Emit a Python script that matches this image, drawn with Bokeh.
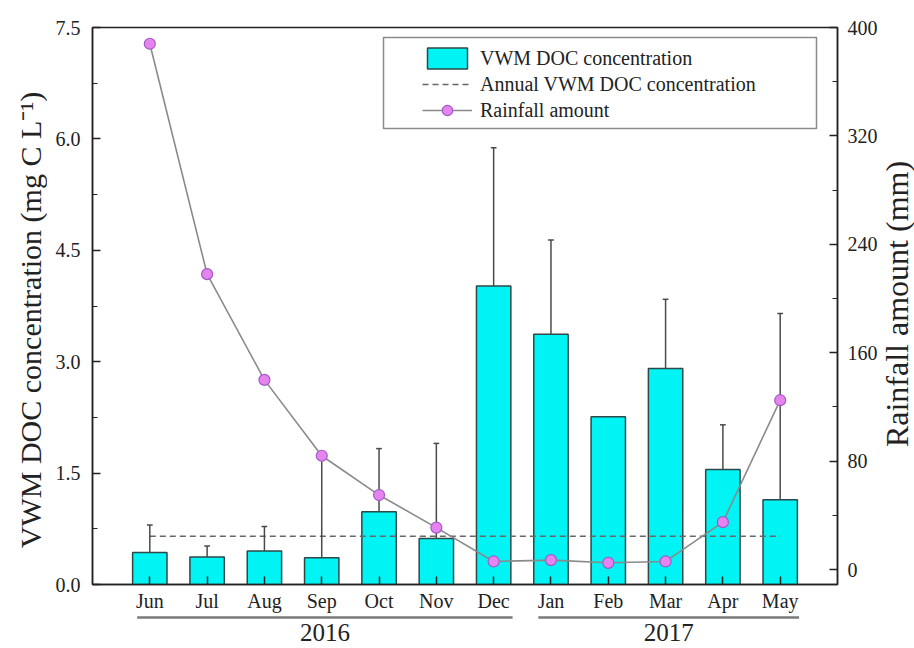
import math

from bokeh.plotting import figure
from bokeh.layouts import column, row
from bokeh.models import (Range1d, LinearAxis, FixedTicker, NumeralTickFormatter,
                          Legend, LegendItem, BoxAnnotation, ColumnDataSource)
from bokeh.core.properties import value
from bokeh.embed import file_html
from bokeh.resources import INLINE

# ---- data -------------------------------------------------------------
months = ["Jun", "Jul", "Aug", "Sep", "Oct", "Nov",
          "Dec", "Jan", "Feb", "Mar", "Apr", "May"]
years = ["2016", "2017"]
year_first = [0, 7]          # index of first month of each year
year_last = [6, 11]          # index of last month of each year

doc_mean = [0.43, 0.37, 0.45, 0.36, 0.98, 0.62, 4.02, 3.37, 2.26, 2.91, 1.55, 1.14]
doc_sd = [0.37, 0.15, 0.33, 1.37, 0.85, 1.28, 1.86, 1.27, 0.0, 0.93, 0.60, 2.51]
annual_doc = 0.65
rainfall = [388, 218, 140, 84, 55, 31, 6, 7, 5, 6, 35, 125]

doc_ticks = [0.0, 1.5, 3.0, 4.5, 6.0, 7.5]
rain_ticks = [0, 80, 160, 240, 320, 400]

left_title = "VWM DOC concentration (mg C L\u207b\u00b9)"
right_title = "Rainfall amount (mm)"

# ---- layout constants ---------------------------------------------------
FONT = "Liberation Serif"
INK = "#222222"
TOTAL_W, TOTAL_H = 914, 648
FRAME_W, FRAME_H = 745, 557
SIDE_L, SIDE_R = 47, 35                  # strips holding the axis titles
BORDER_L, BORDER_R, BORDER_T, BORDER_B = 45, 42, 27, 30
STRIP_H = TOTAL_H - (BORDER_T + FRAME_H + BORDER_B)
Y_MIN, Y_MAX = 0.0, 7.5
RAIN_MIN, RAIN_MAX = -11, 400
X_MIN, X_MAX = -1, len(months)

xs = list(range(len(months)))

p = figure(frame_width=FRAME_W, frame_height=FRAME_H,
           x_range=Range1d(X_MIN, X_MAX), y_range=Range1d(Y_MIN, Y_MAX),
           output_backend="svg", toolbar_location=None,
           min_border_left=BORDER_L, min_border_right=BORDER_R,
           min_border_top=BORDER_T, min_border_bottom=BORDER_B,
           background_fill_color="white", border_fill_color="white",
           outline_line_color=INK, outline_line_width=1.5)
p.xgrid.visible = False
p.ygrid.visible = False
p.extra_y_ranges = {"rain": Range1d(RAIN_MIN, RAIN_MAX)}


def style_axis(ax):
    ax.axis_line_color = INK
    ax.axis_line_width = 1.5
    ax.major_tick_line_color = INK
    ax.minor_tick_line_color = INK
    ax.major_tick_line_width = 1.5
    ax.minor_tick_line_width = 1.2
    ax.major_tick_in = 8
    ax.major_tick_out = 0
    ax.minor_tick_in = 5
    ax.minor_tick_out = 0
    ax.major_label_text_font = FONT
    ax.major_label_text_font_size = "20px"
    ax.major_label_text_color = INK


# bottom axis: month names at category centres
xa = p.xaxis[0]
style_axis(xa)
xa.ticker = FixedTicker(ticks=xs)
xa.major_label_overrides = {i: m for i, m in enumerate(months)}
xa.minor_tick_line_color = None
xa.major_label_standoff = 5

# left axis: DOC concentration
ya = p.yaxis[0]
style_axis(ya)
doc_minor = [(a + b) / 2 for a, b in zip(doc_ticks[:-1], doc_ticks[1:])]
ya.ticker = FixedTicker(ticks=doc_ticks, minor_ticks=doc_minor)
ya.formatter = NumeralTickFormatter(format="0.0")
ya.major_label_standoff = 12

# right axis: rainfall
rain_minor = [(a + b) / 2 for a, b in zip(rain_ticks[:-1], rain_ticks[1:])]
ra = LinearAxis(y_range_name="rain",
                ticker=FixedTicker(ticks=rain_ticks, minor_ticks=rain_minor))
style_axis(ra)
ra.major_label_standoff = 10
p.add_layout(ra, "right")

# ---- glyphs -------------------------------------------------------------
src = ColumnDataSource(dict(x=xs, doc=doc_mean, sd=doc_sd))
bars = p.vbar(x="x", top="doc", width=0.6, source=src,
              fill_color="#00f4f4", line_color="#2d4848", line_width=1.5)

annual = p.line(x=[xs[0], xs[-1]], y=[annual_doc, annual_doc],
                line_color="#666666", line_width=1.6, line_dash="6 4")

# upward error bars with caps
ex = [x for x, s in zip(xs, doc_sd) if s > 0]
e0 = [m for m, s in zip(doc_mean, doc_sd) if s > 0]
e1 = [m + s for m, s in zip(doc_mean, doc_sd) if s > 0]
cap = 0.05
p.segment(x0=ex, y0=e0, x1=ex, y1=e1, line_color="#4a4a4a", line_width=1.5)
p.segment(x0=[x - cap for x in ex], y0=e1, x1=[x + cap for x in ex], y1=e1,
          line_color="#4a4a4a", line_width=1.5)

rain_line = p.line(x=xs, y=rainfall, y_range_name="rain",
                   line_color="#8a8a8a", line_width=1.6)
rain_pts = p.scatter(x=xs, y=rainfall, y_range_name="rain", size=11,
                     fill_color="#e584ee", line_color="#a05ac8", line_width=1.2)

# ---- legend -------------------------------------------------------------
box = BoxAnnotation(left=291, right=724, top=547, bottom=456,
                    left_units="screen", right_units="screen",
                    top_units="screen", bottom_units="screen",
                    fill_color="white", fill_alpha=1.0,
                    line_color="#8a8a8a", line_width=1.5, line_alpha=1.0)
p.add_layout(box)

legend = Legend(items=[
    LegendItem(label="VWM DOC concentration", renderers=[bars]),
    LegendItem(label="Annual VWM DOC concentration", renderers=[annual]),
    LegendItem(label="Rainfall amount", renderers=[rain_line, rain_pts]),
], location=(330, 461), glyph_width=50, glyph_height=26, label_height=26,
    spacing=0, padding=0, margin=0, label_standoff=8,
    label_text_font=FONT, label_text_font_size="20px", label_text_color=INK,
    border_line_alpha=0, background_fill_alpha=0)
p.add_layout(legend)


def blank_panel(w, h, x_range=None):
    f = figure(frame_width=w, frame_height=h,
               x_range=x_range if x_range is not None else Range1d(0, w),
               y_range=Range1d(0, h), x_axis_type=None, y_axis_type=None,
               output_backend="svg", toolbar_location=None,
               min_border_left=0, min_border_right=0,
               min_border_top=0, min_border_bottom=0,
               background_fill_color="white", border_fill_color="white",
               outline_line_color=None)
    f.xgrid.visible = False
    f.ygrid.visible = False
    return f


# ---- year brackets: a thin strip below the main plot, sharing x ----------
strip = blank_panel(FRAME_W, STRIP_H, x_range=p.x_range)
strip.min_border_left = BORDER_L
strip.min_border_right = BORDER_R
y0 = [a - 0.22 for a in year_first]
y1 = [b + 0.33 for b in year_last]
line_level = STRIP_H - 3
text_level = STRIP_H - 18
strip.segment(x0=y0, y0=[line_level] * len(years), x1=y1, y1=[line_level] * len(years),
              line_color="#7a7a7a", line_width=2.5)
strip.text(x=[(a + b) / 2 for a, b in zip(y0, y1)], y=[text_level] * len(years),
           text=years, text_align="center", text_baseline="middle",
           text_font=value(FONT), text_font_size="25px", text_color=INK)

# ---- axis titles, both reading upwards ------------------------------------
frame_mid = TOTAL_H - (BORDER_T + FRAME_H / 2)      # frame centre, from bottom
left_panel = blank_panel(SIDE_L, TOTAL_H)
left_panel.text(x=[30], y=[frame_mid - 14], text=[left_title], angle=math.pi / 2,
                text_align="center", text_baseline="middle",
                text_font=value(FONT), text_font_size="30px", text_color=INK)

right_panel = blank_panel(SIDE_R, TOTAL_H)
right_panel.text(x=[16], y=[frame_mid + 2], text=[right_title], angle=math.pi / 2,
                 text_align="center", text_baseline="middle",
                 text_font=value(FONT), text_font_size="32px", text_color=INK)

layout = row(left_panel, column(p, strip, spacing=0), right_panel, spacing=0)
open("out.html", "w").write(file_html(layout, INLINE))
